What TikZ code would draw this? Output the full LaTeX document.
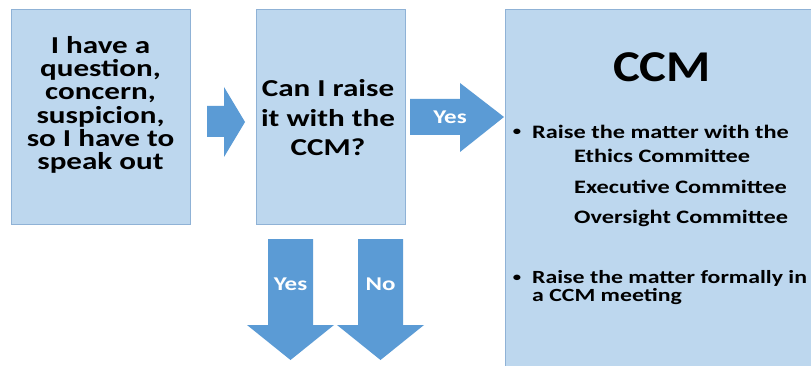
\documentclass[tikz,border=0pt]{standalone}
\usepackage{fontspec}
\setmainfont{Carlito}[FakeStretch=1.28]
\newfontfamily\ccmfont{Carlito}[FakeStretch=1.15]
\definecolor{boxfill}{HTML}{BDD7EE}
\definecolor{boxline}{HTML}{8FB2D6}
\definecolor{arrowblue}{HTML}{5B9BD5}
\begin{document}
\begin{tikzpicture}[x=1pt,y=-1pt,
  box/.style={draw=boxline, fill=boxfill, line width=0.9pt, inner sep=0pt, anchor=north west},
  barrow/.style={fill=arrowblue, draw=none},
  bigtxt/.style={font=\fontsize{24.3}{24}\selectfont\bfseries, anchor=base, inner sep=0pt},
  midtxt/.style={font=\fontsize{19}{19}\selectfont\bfseries, anchor=base west, inner sep=0pt},
  bultxt/.style={font=\fontsize{13}{13}\selectfont\bfseries, anchor=base, inner sep=0pt},
  lbl/.style={font=\fontsize{19.5}{19.5}\selectfont\bfseries, text=white, inner sep=0pt}]
\useasboundingbox (0,0) rectangle (811,366);
\clip (0,0) rectangle (811,366);
\fill[white] (0,0) rectangle (811,366);
% boxes
\node[box, minimum width=179pt, minimum height=215pt] (b1) at (11,9) {};
\node[box, minimum width=149pt, minimum height=215pt] (b2) at (256,9) {};
\node[box, minimum width=340pt, minimum height=380pt] (b3) at (505,9) {};
% arrows
\fill[barrow] (207,106) -- (224,106) -- (224,87) -- (245,122) -- (224,157) -- (224,137) -- (207,137) -- cycle;
\fill[barrow] (410,99) -- (460,99) -- (460,83) -- (504,117) -- (460,152) -- (460,135) -- (410,135) -- cycle;
\fill[barrow] (268,239) -- (313,239) -- (313,325) -- (334,325) -- (290.5,360) -- (247,325) -- (268,325) -- cycle;
\fill[barrow] (358,239) -- (403,239) -- (403,325) -- (424,325) -- (380.5,360) -- (337,325) -- (358,325) -- cycle;
% arrow labels
\node[lbl] (yesr) at (450,117) {Yes};
\node[lbl] (yesd) at (290.5,284) {Yes};
\node[lbl] (nod) at (380.5,284) {No};
% box 1 text
\node[bigtxt] (q1) at (100.5,53.3) {I have a};
\node[bigtxt] (q2) at (100.5,76.6) {question,};
\node[bigtxt] (q3) at (100.5,99.9) {concern,};
\node[bigtxt] (q4) at (100.5,123.2) {suspicion,};
\node[bigtxt] (q5) at (100.5,146.5) {so I have to};
\node[bigtxt] (q6) at (100.5,169.8) {speak out};
% box 2 text
\node[bigtxt] (c1) at (328,96.7) {Can I raise};
\node[bigtxt] (c2) at (328,126.2) {it with the};
\node[bigtxt] (c3) at (328,155.7) {CCM?};
% box 3 text
\node[font=\fontsize{44}{44}\selectfont\ccmfont\bfseries, anchor=base, inner sep=0pt] (ccmt) at (662,82) {CCM};
\node[bultxt] (bul1) at (517,136) {•};
\node[midtxt] (r1) at (532,138.3) {Raise the matter with the};
\node[midtxt] (r2) at (574,162.3) {Ethics Committee};
\node[midtxt] (r3) at (574,193.3) {Executive Committee};
\node[midtxt] (r4) at (574,224) {Oversight Committee};
\node[bultxt] (bul2) at (517,281.5) {•};
\node[midtxt, font=\fontsize{18.6}{17}\selectfont\bfseries] (r5) at (532,283.3)
  {\begin{tabular}[t]{@{}l@{}}Raise the matter formally in\\ a CCM meeting\end{tabular}};
\end{tikzpicture}
\end{document}
